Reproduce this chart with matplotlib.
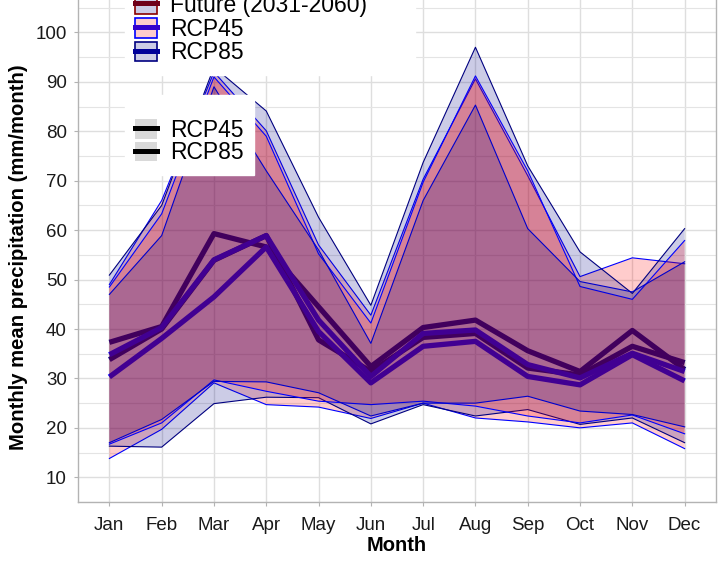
import numpy as np
import matplotlib
matplotlib.use("Agg")
import matplotlib.pyplot as plt
from matplotlib.patches import Patch
from matplotlib.lines import Line2D

plt.rcParams['font.family'] = ['Liberation Sans', 'DejaVu Sans']

months = ['Jan', 'Feb', 'Mar', 'Apr', 'May', 'Jun', 'Jul', 'Aug', 'Sep', 'Oct', 'Nov', 'Dec']

# ribbons (model range), two per scenario
rcp45_a_low = [13.8, 19.7, 29.1, 24.7, 24.2, 21.9, 25.0, 22.0, 21.2, 20.0, 21.0, 15.8]
rcp45_a_up = [49.0, 66.0, 92.0, 80.1, 57.0, 42.8, 70.3, 90.6, 71.0, 50.6, 54.4, 53.2]
rcp45_b_low = [16.7, 21.0, 29.7, 27.4, 25.4, 24.7, 25.4, 24.4, 22.4, 21.0, 22.6, 18.8]
rcp45_b_up = [48.5, 63.3, 91.0, 79.0, 55.2, 41.2, 69.7, 91.2, 72.0, 48.6, 46.0, 57.9]
rcp85_a_low = [16.3, 16.1, 24.9, 26.2, 26.1, 20.8, 24.7, 22.4, 23.7, 20.7, 22.0, 17.0]
rcp85_a_up = [50.9, 65.0, 93.0, 84.1, 62.6, 44.8, 73.7, 97.0, 73.0, 55.6, 47.2, 60.3]
rcp85_b_low = [17.0, 21.7, 29.4, 29.3, 27.1, 22.4, 25.0, 25.0, 26.4, 23.4, 22.7, 20.2]
rcp85_b_up = [47.0, 58.9, 89.0, 72.0, 56.0, 37.1, 66.0, 85.3, 60.3, 49.6, 47.5, 53.6]

# ensemble means
rcp85_mean_a = [37.3, 40.5, 59.3, 56.6, 44.5, 32.4, 40.3, 41.8, 35.6, 31.4, 39.7, 31.8]
rcp85_mean_b = [33.8, 40.0, 53.9, 58.9, 37.8, 31.4, 38.3, 39.1, 32.1, 30.7, 36.5, 33.2]
rcp45_mean_a = [34.8, 40.3, 54.0, 58.9, 41.8, 30.4, 39.1, 39.8, 32.8, 30.1, 35.1, 31.4]
rcp45_mean_b = [30.3, 38.1, 46.5, 56.6, 39.5, 29.1, 36.5, 37.5, 30.4, 28.7, 34.8, 29.5]

x = np.arange(1, 13)

fig = plt.figure(figsize=(7.27, 5.66), dpi=100)
ax = fig.add_axes([78 / 727, 1 - 502 / 566, (716 - 78) / 727, (502 + 17) / 566])

# lines first, the ribbons go on top of them
for m in [rcp85_mean_a, rcp85_mean_b]:
    ax.plot(x, m, color='#000080', lw=3.8, zorder=2, solid_capstyle='butt')
for m in [rcp45_mean_a, rcp45_mean_b]:
    ax.plot(x, m, color='#0000ff', lw=3.8, zorder=2, solid_capstyle='butt')

ribbons = [
    (rcp45_a_low, rcp45_a_up, '#ff0000', '#0000ff'),
    (rcp85_a_low, rcp85_a_up, '#000082', '#000080'),
    (rcp45_b_low, rcp45_b_up, '#ff0000', '#0000ff'),
    (rcp85_b_low, rcp85_b_up, '#000082', '#0000cc'),
]
z = 3
for lo, up, fc, ec in ribbons:
    ax.fill_between(x, lo, up, facecolor=fc, alpha=0.2, lw=0, zorder=z)
    ax.plot(x, lo, color=ec, lw=0.8, zorder=z + 0.5)
    ax.plot(x, up, color=ec, lw=0.8, zorder=z + 0.5)
    z += 1

ax.set_xlim(0.4, 12.6)
ax.set_ylim(5.3, 110)
ax.set_xticks(x)
ax.set_xticklabels(months)
ax.set_yticks(np.arange(10, 101, 10))
ax.set_yticks(np.arange(5, 110, 5), minor=True)
ax.set_axisbelow(True)
ax.grid(which='major', color='#dedede', lw=1.0)
ax.grid(which='minor', axis='y', color='#e4e4e4', lw=0.8)
for s in ax.spines.values():
    s.set_color('#b3b3b3')
    s.set_linewidth(1.0)
ax.tick_params(which='major', length=3, color='#b3b3b3', labelsize=13.5, labelcolor='#1a1a1a', pad=5)
ax.tick_params(axis='x', pad=8)
ax.tick_params(which='minor', length=0)

ax.set_xlabel('Month', fontsize=14.5, fontweight='bold', labelpad=1)
ax.set_ylabel('Monthly mean precipitation (mm/month)', fontsize=14.6, fontweight='bold')
ax.yaxis.set_label_coords(-0.078, (502 - 257.5) / 519)

# legend for the fills (top part is cut by the figure edge, as in the original)
h1 = [
    (Patch(facecolor='#ccccE6', edgecolor='#8b0000', lw=1.2), Line2D([], [], color='#6f001a', lw=3.6)),
    (Patch(facecolor='#ffcccc', edgecolor='#0000ff', lw=1.2), Line2D([], [], color='#3300cc', lw=3.6)),
    (Patch(facecolor='#ccccE6', edgecolor='#000080', lw=1.2), Line2D([], [], color='#000099', lw=3.6)),
]
leg1 = fig.legend(h1, ['Future (2031-2060)', 'RCP45', 'RCP85'],
                  loc='upper left', bbox_to_anchor=(125 / 727, 1 + 11 / 566, 290 / 727, 0.01),
                  mode='expand',
                  fontsize=16.5, frameon=True, fancybox=False, edgecolor='white',
                  framealpha=1, handlelength=0.95, handleheight=0.95, handletextpad=0.55,
                  labelspacing=0.04, borderpad=0.45, borderaxespad=0)

# legend for the line types
h2 = [
    (Patch(facecolor='#d9d9d9', edgecolor='none'), Line2D([], [], color='black', lw=3.6)),
    (Patch(facecolor='#d9d9d9', edgecolor='none'), Line2D([], [], color='black', lw=3.6)),
]
leg2 = fig.legend(h2, ['RCP45', 'RCP85'],
                  loc='upper left', bbox_to_anchor=(125 / 727, 1 - 95 / 566),
                  fontsize=16.5, frameon=True, fancybox=False, edgecolor='white',
                  framealpha=1, handlelength=0.95, handleheight=0.95, handletextpad=0.55,
                  labelspacing=-0.02, borderpad=0.45, borderaxespad=0,
                  title=' ', title_fontsize=11)

fig.savefig('out.png', dpi=100)
